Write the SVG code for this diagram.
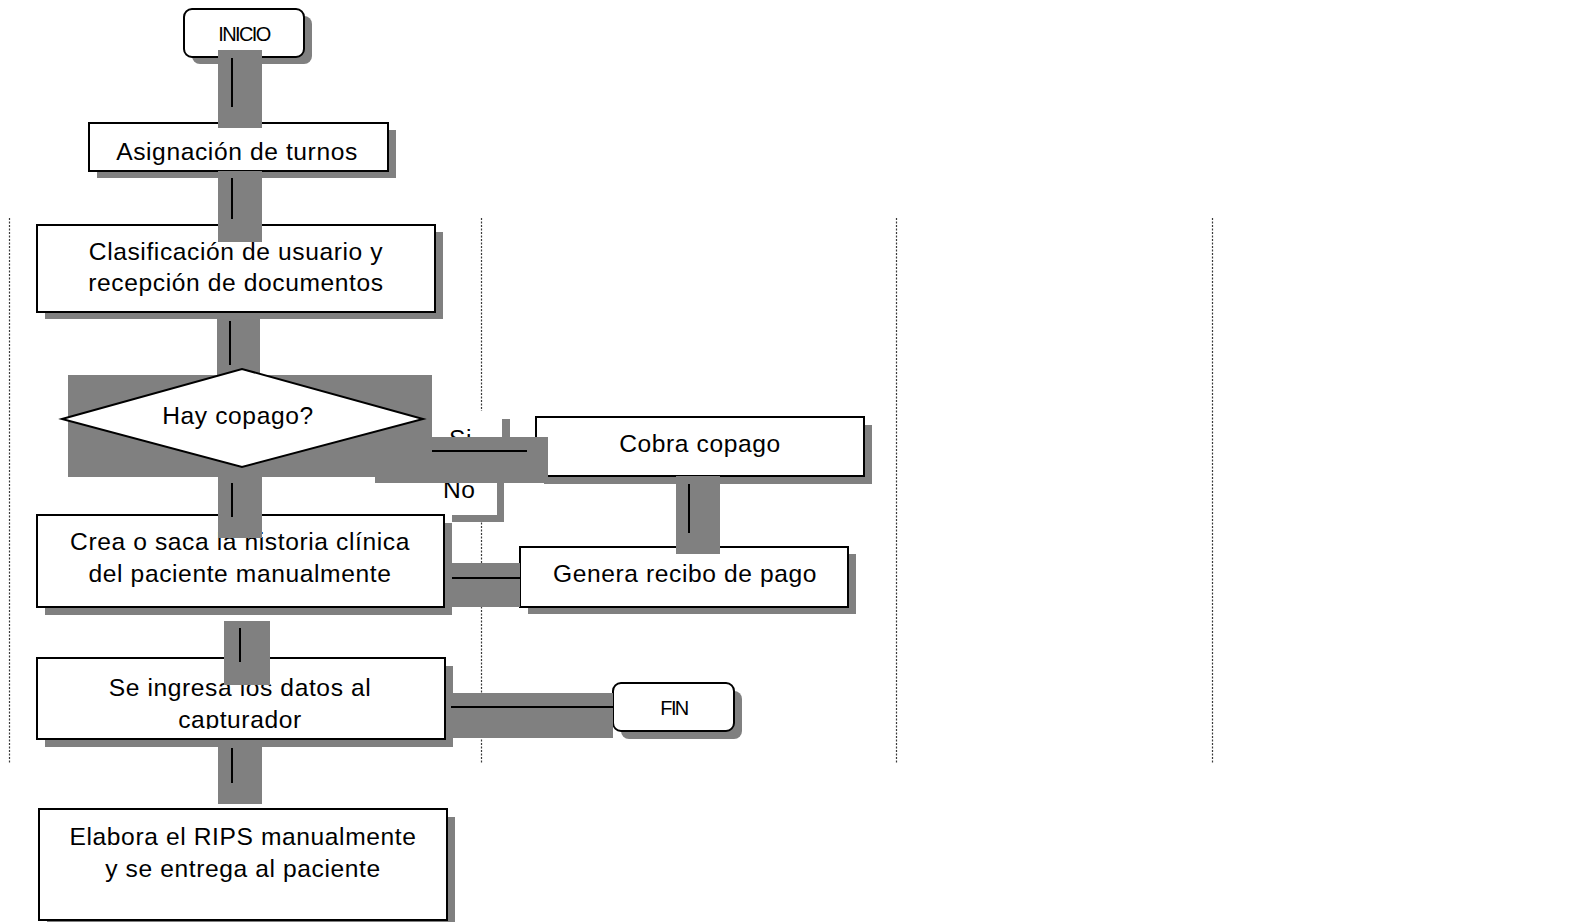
<svg xmlns="http://www.w3.org/2000/svg" width="1577" height="922" viewBox="0 0 1577 922">
  <style>
    .lane { stroke: #3a3a3a; stroke-width: 1.2; stroke-dasharray: 2 1.5; fill: none; }
    .shadow { fill: #808080; }
    .box { fill: #ffffff; stroke: #000000; stroke-width: 2; }
    .grey { fill: #808080; }
    .wire { stroke: #000000; stroke-width: 2; fill: none; }
    .lbl { fill: #ffffff; }
    text { font-family: "Liberation Sans", Arial, sans-serif; fill: #000000; }
    .t { font-size: 24.6px; letter-spacing: 0.6px; text-anchor: middle; }
    .tl { font-size: 24.6px; letter-spacing: 0.6px; }
    .term { font-size: 20px; letter-spacing: -1.6px; text-anchor: middle; }
  </style>
  <defs>
    <clipPath id="clipAsig"><rect x="0" y="0" width="1577" height="165"/></clipPath>
    <clipPath id="clipCapt"><rect x="0" y="600" width="1577" height="129"/></clipPath>
  </defs>

  <rect x="0" y="0" width="1577" height="922" fill="#ffffff"/>

  <!-- swimlane separators -->
  <g id="lanes">
    <line class="lane" x1="9.5" y1="218" x2="9.5" y2="763"/>
    <line class="lane" x1="481.5" y1="218" x2="481.5" y2="763"/>
    <line class="lane" x1="896.5" y1="218" x2="896.5" y2="763"/>
    <line class="lane" x1="1212.5" y1="218" x2="1212.5" y2="763"/>
  </g>

  <g id="inicio">
    <rect class="shadow" x="192" y="16" width="120" height="48" rx="8"/>
    <rect class="box" x="184" y="9" width="120" height="48" rx="8"/>
    <text class="term" x="244" y="41">INICIO</text>
  </g>

  <g id="asignacion">
    <rect class="shadow" x="97" y="130" width="299" height="48"/>
    <rect class="box" x="89" y="123" width="299" height="48"/>
    <text class="t" x="237" y="160" clip-path="url(#clipAsig)">Asignación de turnos</text>
  </g>

  <g id="clasificacion">
    <rect class="shadow" x="45" y="232" width="398" height="87"/>
    <rect class="box" x="37" y="225" width="398" height="87"/>
    <text class="t" x="236" y="260">Clasificación de usuario y</text>
    <text class="t" x="236" y="291">recepción de documentos</text>
  </g>

  <g id="etiqueta-si">
    <rect class="shadow" x="448" y="419" width="62" height="40"/>
    <rect class="lbl" x="440" y="411" width="62" height="40"/>
    <text class="tl" x="449" y="447">Si</text>
  </g>

  <g id="etiqueta-no">
    <rect class="shadow" x="452" y="482" width="52" height="40"/>
    <rect class="lbl" x="445" y="475" width="52" height="40"/>
    <text class="tl" x="443" y="498">No</text>
  </g>

  <g id="cobra">
    <rect class="shadow" x="544" y="425" width="328" height="59"/>
    <rect class="box" x="536" y="417" width="328" height="59"/>
    <text class="t" x="700" y="452">Cobra copago</text>
  </g>

  <g id="genera">
    <rect class="shadow" x="528" y="554" width="328" height="60"/>
    <rect class="box" x="520" y="547" width="328" height="60"/>
    <text class="t" x="685" y="582">Genera recibo de pago</text>
  </g>

  <g id="crea">
    <rect class="shadow" x="45" y="523" width="407" height="92"/>
    <rect class="box" x="37" y="515" width="407" height="92"/>
    <text class="t" x="240" y="550">Crea o saca la historia clínica</text>
    <text class="t" x="240" y="582">del paciente manualmente</text>
  </g>

  <g id="ingresa">
    <rect class="shadow" x="45" y="666" width="408" height="81"/>
    <rect class="box" x="37" y="658" width="408" height="81"/>
    <text class="t" x="240" y="696">Se ingresa los datos al</text>
    <text class="t" x="240" y="728" clip-path="url(#clipCapt)">capturador</text>
  </g>

  <g id="fin">
    <rect class="shadow" x="621" y="691" width="121" height="48" rx="8"/>
    <rect class="box" x="613" y="683" width="121" height="48" rx="8"/>
    <text class="term" x="674" y="715">FIN</text>
  </g>

  <g id="elabora">
    <rect class="shadow" x="47" y="817" width="408" height="111"/>
    <rect class="box" x="39" y="809" width="408" height="111"/>
    <text class="t" x="243" y="845">Elabora el RIPS manualmente</text>
    <text class="t" x="243" y="877">y se entrega al paciente</text>
  </g>

  <!-- connectors: grey bands with the flow line on top -->
  <g id="connectors">
    <rect class="grey" x="218" y="50" width="44" height="78"/>
    <line class="wire" x1="232" y1="58" x2="232" y2="107"/>

    <rect class="grey" x="218" y="171" width="44" height="71"/>
    <line class="wire" x1="232" y1="178" x2="232" y2="219"/>

    <rect class="grey" x="217" y="318" width="43" height="57"/>
    <line class="wire" x1="230" y1="321" x2="230" y2="365"/>

    <rect class="grey" x="218" y="477" width="44" height="61"/>
    <line class="wire" x1="232" y1="483" x2="232" y2="517"/>

    <rect class="grey" x="430" y="437" width="118" height="40"/>
    <rect class="grey" x="375" y="475" width="170" height="8"/>
    <line class="wire" x1="432" y1="451" x2="527" y2="451"/>

    <rect class="grey" x="676" y="476" width="44" height="78"/>
    <line class="wire" x1="689" y1="484" x2="689" y2="533"/>

    <rect class="grey" x="452" y="563" width="68" height="44"/>
    <line class="wire" x1="452" y1="578" x2="520" y2="578"/>

    <rect class="grey" x="224" y="621" width="46" height="64"/>
    <line class="wire" x1="240" y1="628" x2="240" y2="662"/>

    <rect class="grey" x="451" y="693" width="162" height="45"/>
    <line class="wire" x1="451" y1="707" x2="613" y2="707"/>

    <rect class="grey" x="218" y="747" width="44" height="57"/>
    <line class="wire" x1="232" y1="748" x2="232" y2="783"/>
  </g>

  <g id="decision">
    <rect class="grey" x="68" y="375" width="364" height="102"/>
    <polygon class="box" points="62,419 242,369 423,419 242,467"/>
    <text class="t" x="238" y="424">Hay copago?</text>
  </g>
</svg>
